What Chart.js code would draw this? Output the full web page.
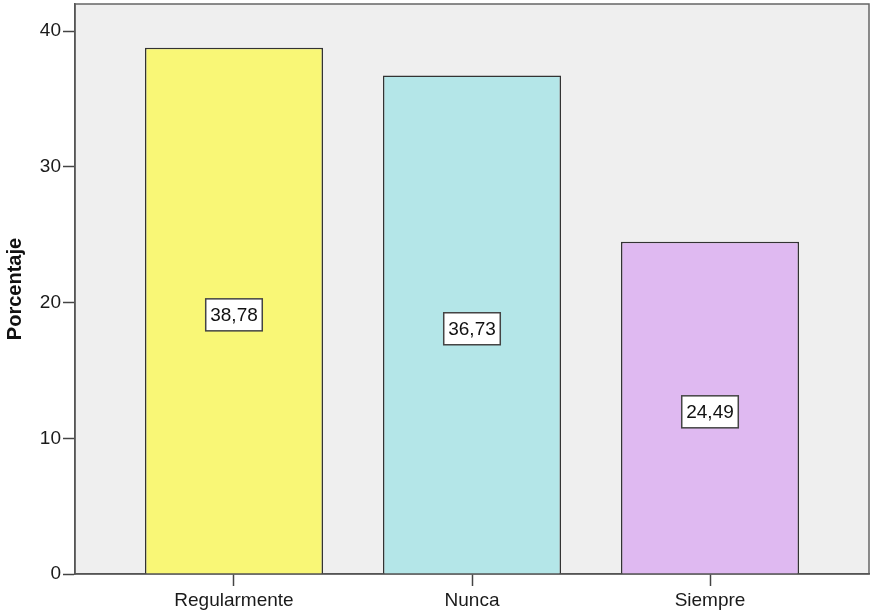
<!DOCTYPE html>
<html>
<head>
<meta charset="utf-8">
<script src="https://cdn.jsdelivr.net/npm/chart.js@4/dist/chart.umd.min.js"></script>
<style>
  html, body { margin: 0; padding: 0; background: #fff; }
  #wrap { width: 871px; height: 614px; }
</style>
</head>
<body>
<div id="wrap"><canvas id="myBarChart" width="871" height="614"></canvas></div>
<script>
// Categories and percentages
var categories = ['Regularmente', 'Nunca', 'Siempre'];
var percentages = [38.78, 36.73, 24.49];
var barColors = ['#f9f776', '#b4e6e8', '#dfb9f1'];
var yTicks = [0, 10, 20, 30, 40];

// Plot background and frame
var framePlugin = {
    id: 'frame',
    beforeDraw: function (chart) {
        var a = chart.chartArea, c = chart.ctx;
        c.save();
        c.fillStyle = '#efefef';
        c.fillRect(a.left, a.top, a.right - a.left, a.bottom - a.top);
        c.strokeStyle = '#666';
        c.lineWidth = 1.5;
        c.strokeRect(a.left, a.top, a.right - a.left, a.bottom - a.top);
        c.restore();
    }
};

// Value boxes in the middle of each bar
var boxLabels = {
    id: 'boxLabels',
    afterDatasetsDraw: function (chart) {
        var c = chart.ctx;
        var yScale = chart.scales.y;
        var meta = chart.getDatasetMeta(0);
        c.save();
        c.font = '19px "Liberation Sans", Arial, sans-serif';
        c.textAlign = 'center';
        c.textBaseline = 'middle';
        meta.data.forEach(function (bar, i) {
            var text = percentages[i].toFixed(2).replace('.', ',');
            var y = yScale.getPixelForValue(percentages[i] / 2) + 4;
            var w = c.measureText(text).width + 9;
            var h = 32;
            c.fillStyle = '#fff';
            c.fillRect(bar.x - w / 2, y - h / 2, w, h);
            c.strokeStyle = '#444';
            c.lineWidth = 1.5;
            c.strokeRect(bar.x - w / 2, y - h / 2, w, h);
            c.fillStyle = '#111';
            c.fillText(text, bar.x, y + 1);
        });
        c.restore();
    }
};

var ctx = document.getElementById('myBarChart').getContext('2d');

var myBarChart = new Chart(ctx, {
    type: 'bar',
    data: {
        datasets: [{
            data: percentages.map(function (v, i) { return { x: i, y: v }; }),
            backgroundColor: barColors,
            borderColor: '#333',
            borderWidth: 1.5,
            barPercentage: 0.748,
            categoryPercentage: 1
        }]
    },
    options: {
        responsive: false,
        animation: false,
        layout: { padding: { top: 4, right: 2, left: 0, bottom: 0 } },
        plugins: {
            legend: { display: false },
            tooltip: { enabled: false }
        },
        scales: {
            x: {
                type: 'linear',
                offset: false,
                min: -0.668,
                max: 2.668,
                afterBuildTicks: function (axis) {
                    axis.ticks = categories.map(function (c, i) { return { value: i }; });
                },
                afterFit: function (axis) {
                    axis.height = 40;
                    axis.paddingLeft = 0;
                    axis.paddingRight = 0;
                },
                ticks: {
                    callback: function (v) { return categories[v]; },
                    font: { family: '"Liberation Sans", Arial, sans-serif', size: 19 },
                    color: '#1a1a1a',
                    padding: 3,
                    maxRotation: 0
                },
                grid: { offset: false, drawOnChartArea: false, tickLength: 12, color: '#444', tickWidth: 1.5 },
                border: { color: '#555', width: 1.5 }
            },
            y: {
                min: 0,
                max: 42,
                afterBuildTicks: function (axis) {
                    axis.ticks = yTicks.map(function (v) { return { value: v }; });
                },
                afterFit: function (axis) {
                    axis.width = 75;
                    axis.paddingTop = 0;
                    axis.paddingBottom = 0;
                },
                title: {
                    display: true,
                    text: 'Porcentaje',
                    font: { family: '"Liberation Sans", Arial, sans-serif', size: 20, weight: 'bold' },
                    color: '#111',
                    padding: { top: 3, bottom: 0 }
                },
                ticks: {
                    font: { family: '"Liberation Sans", Arial, sans-serif', size: 19 },
                    color: '#1a1a1a',
                    padding: 2
                },
                grid: { drawOnChartArea: false, tickLength: 12, color: '#444', tickWidth: 1.5 },
                border: { color: '#555', width: 1.5 }
            }
        }
    },
    plugins: [framePlugin, boxLabels]
});
</script>
</body>
</html>
